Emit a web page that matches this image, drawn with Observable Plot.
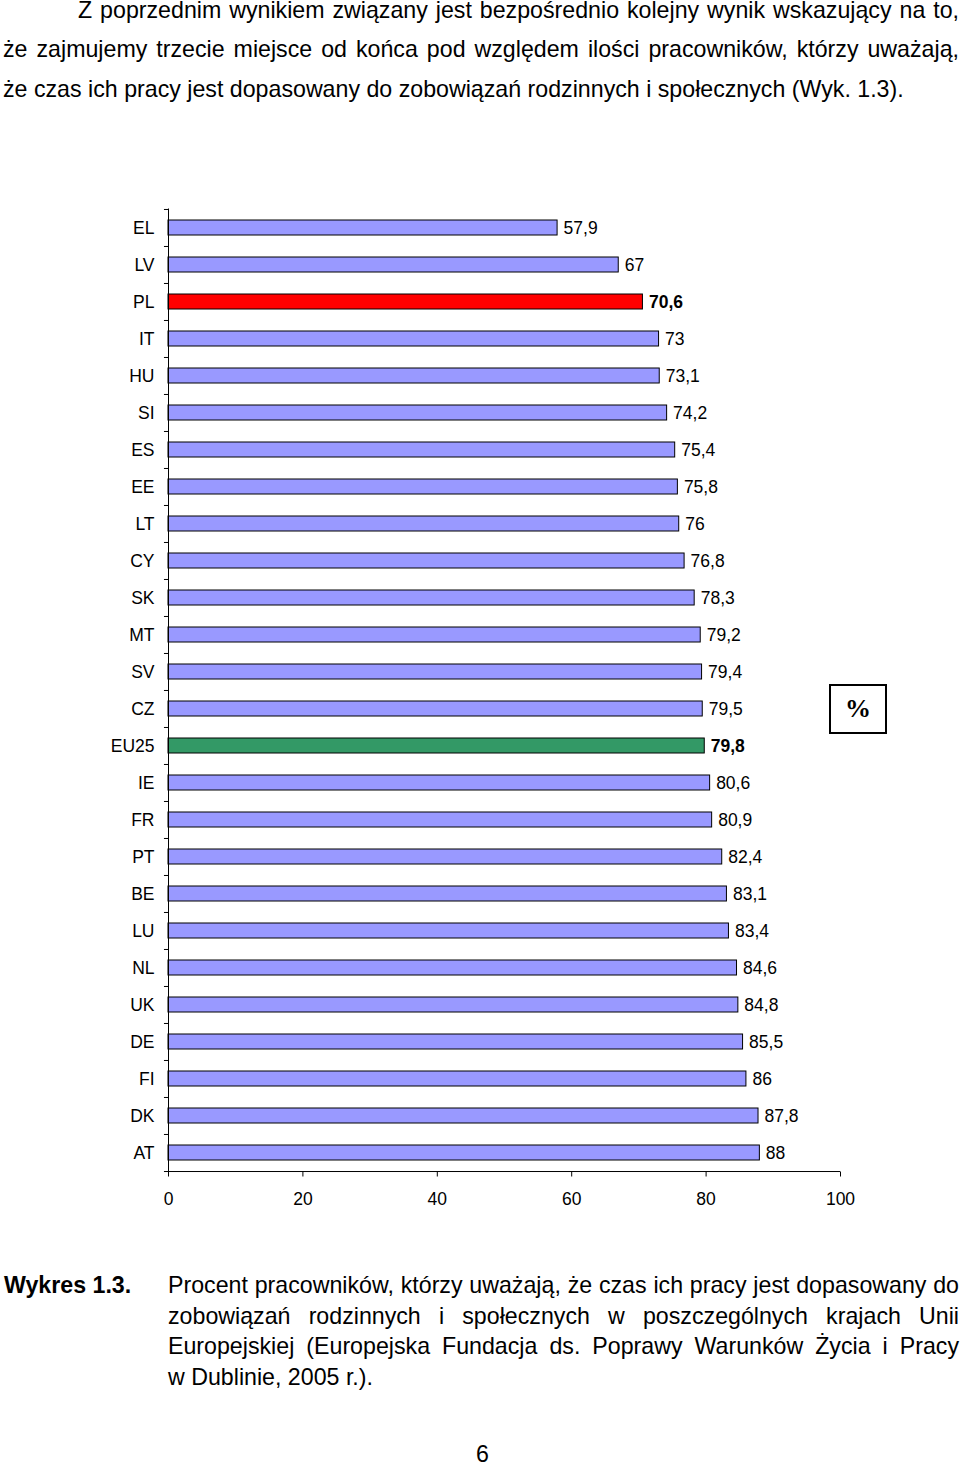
<!DOCTYPE html>
<html lang="pl">
<head>
<meta charset="utf-8">
<script src="https://cdn.jsdelivr.net/npm/d3@7"></script>
<script src="https://cdn.jsdelivr.net/npm/@observablehq/plot@0.6"></script>
<style>
  html, body { margin: 0; padding: 0; background: #fff; }
  body { width: 960px; height: 1466px; position: relative; overflow: hidden;
         font-family: "Liberation Sans", Arial, sans-serif; color: #000; }
  .ln { position: absolute; font-size: 23.2px; line-height: 26px; white-space: normal; }
  .just { text-align: justify; text-align-last: justify; }
  #chart { position: absolute; left: 0; top: 180px; }
  #pct { position: absolute; left: 829px; top: 684px; width: 54px; height: 46px;
         border: 2px solid #000; font-family: "Liberation Serif", "Times New Roman", serif;
         font-weight: bold; font-size: 26px; line-height: 46px; text-align: center; }
</style>
</head>
<body>
<div class="ln just" style="left:78px; width:881px; top:-3px;">Z poprzednim wynikiem związany jest bezpośrednio kolejny wynik wskazujący na to,</div>
<div class="ln just" style="left:3px; width:956px; top:36px;">że zajmujemy trzecie miejsce od końca pod względem ilości pracowników, którzy uważają,</div>
<div class="ln" style="left:3px; width:956px; top:75.5px;">że czas ich pracy jest dopasowany do zobowiązań rodzinnych i społecznych (Wyk. 1.3).</div>

<div id="chart"></div>
<div id="pct">%</div>

<div class="ln" style="left:4px; top:1272px; font-weight:bold;">Wykres 1.3.</div>
<div class="ln just" style="left:168px; width:791px; top:1272px;">Procent pracowników, którzy uważają, że czas ich pracy jest dopasowany do</div>
<div class="ln just" style="left:168px; width:791px; top:1302.7px;">zobowiązań rodzinnych i społecznych w poszczególnych krajach Unii</div>
<div class="ln just" style="left:168px; width:791px; top:1333.4px;">Europejskiej (Europejska Fundacja ds. Poprawy Warunków Życia i Pracy</div>
<div class="ln" style="left:168px; width:791px; top:1364.1px;">w Dublinie, 2005 r.).</div>

<div class="ln" style="left:476px; top:1441px;">6</div>

<script>
const categories = ["EL","LV","PL","IT","HU","SI","ES","EE","LT","CY","SK","MT","SV","CZ","EU25","IE","FR","PT","BE","LU","NL","UK","DE","FI","DK","AT"];
const values = [57.9,67,70.6,73,73.1,74.2,75.4,75.8,76,76.8,78.3,79.2,79.4,79.5,79.8,80.6,80.9,82.4,83.1,83.4,84.6,84.8,85.5,86,87.8,88];
const xTicks = [0,20,40,60,80,100];
const emphasized = ["PL","EU25"];

const data = categories.map((c, i) => ({country: c, value: values[i]}));
const fmt = d => String(d.value).replace(".", ",");
const fillOf = d => d.country === "PL" ? "#ff0000" : d.country === "EU25" ? "#339966" : "#9999ff";

const H = 1050, mTop = 28.5, mBottom = 58.5;
const step = (H - mTop - mBottom) / categories.length;

const chart = Plot.plot({
  width: 960,
  height: H,
  marginTop: mTop,
  marginBottom: mBottom,
  marginLeft: 168,
  marginRight: 120,
  style: {fontFamily: "'Liberation Sans', Arial, sans-serif", fontSize: "17.5px", color: "#000", background: "transparent", overflow: "visible"},
  x: {domain: [0, 100]},
  y: {domain: categories, paddingInner: 0.6, paddingOuter: 0.3},
  marks: [
    Plot.barX(data, {y: "country", x: "value", fill: fillOf, stroke: "#000", strokeWidth: 1}),
    Plot.text(data.filter(d => !emphasized.includes(d.country)), {y: "country", x: "value", text: fmt, dx: 6, textAnchor: "start", fill: "#000"}),
    Plot.text(data.filter(d => emphasized.includes(d.country)), {y: "country", x: "value", text: fmt, dx: 6, textAnchor: "start", fill: "#000", fontWeight: "bold"}),
    Plot.ruleX([0], {stroke: "#000", strokeWidth: 1}),
    Plot.ruleY(categories, {y: d => d, x1: -0.6, x2: 0, dy: -step / 2, stroke: "#000"}),
    Plot.ruleY([categories[categories.length - 1]], {y: d => d, x1: -0.6, x2: 100, dy: step / 2, stroke: "#000"}),
    Plot.axisX({ticks: xTicks, tickSize: 5, tickPadding: 15.5, label: null, tickFormat: d => String(d)}),
    Plot.axisY({tickSize: 0, tickPadding: 14, label: null})
  ]
});
document.getElementById("chart").appendChild(chart);
</script>
</body>
</html>
